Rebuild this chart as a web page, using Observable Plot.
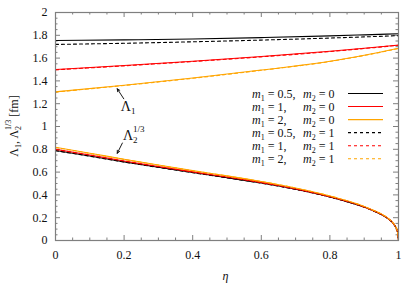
<!DOCTYPE html>
<html><head><meta charset="utf-8">
<script src="https://cdn.jsdelivr.net/npm/d3@7"></script>
<script src="https://cdn.jsdelivr.net/npm/@observablehq/plot@0.6"></script>
<style>
html,body{margin:0;padding:0;background:#fff;}
#chart svg, #chart svg text { font-family: "Liberation Serif", "Times New Roman", serif !important; }
</style>
</head><body><div id="chart"></div>
<script>
// ---- data ----
const etaUpper = [0, 0.2, 0.4, 0.6, 0.8, 0.9, 1.0];
const L1_m05_0 = [1.755, 1.760, 1.768, 1.780, 1.795, 1.804, 1.814];
const L1_m1_0  = [1.500, 1.535, 1.573, 1.614, 1.660, 1.686, 1.714];
const L1_m2_0  = [1.304, 1.362, 1.425, 1.495, 1.572, 1.625, 1.686];
const L1_m05_1 = [1.720, 1.730, 1.743, 1.758, 1.776, 1.786, 1.797];
const L1_m1_1  = [1.497, 1.532, 1.570, 1.611, 1.657, 1.684, 1.712];
const L1_m2_1  = [1.302, 1.360, 1.423, 1.493, 1.570, 1.623, 1.684];

const etaLower = [0, 0.1, 0.2, 0.3, 0.4, 0.5, 0.6, 0.7, 0.8, 0.85, 0.9, 0.93, 0.95, 0.97, 0.98, 0.99, 0.995, 0.998, 1.0];
const L2_m05_0 = [0.790, 0.741, 0.690, 0.642, 0.596, 0.551, 0.504, 0.449, 0.382, 0.341, 0.293, 0.256, 0.228, 0.190, 0.165, 0.127, 0.096, 0.060, 0.0];
const L2_m1_0  = [0.800, 0.750, 0.698, 0.649, 0.602, 0.557, 0.509, 0.453, 0.385, 0.344, 0.295, 0.258, 0.230, 0.192, 0.166, 0.128, 0.097, 0.060, 0.0];
const L2_m2_0  = [0.818, 0.766, 0.713, 0.662, 0.613, 0.567, 0.518, 0.461, 0.391, 0.349, 0.299, 0.261, 0.233, 0.194, 0.168, 0.130, 0.098, 0.060, 0.0];
const L2_m05_1 = [0.788, 0.739, 0.689, 0.641, 0.595, 0.550, 0.503, 0.448, 0.381, 0.340, 0.292, 0.255, 0.227, 0.189, 0.164, 0.126, 0.095, 0.060, 0.0];
const L2_m1_1  = [0.799, 0.749, 0.697, 0.648, 0.601, 0.556, 0.508, 0.452, 0.384, 0.343, 0.294, 0.257, 0.229, 0.191, 0.165, 0.127, 0.096, 0.060, 0.0];
const L2_m2_1  = [0.816, 0.764, 0.711, 0.661, 0.612, 0.566, 0.517, 0.460, 0.390, 0.348, 0.298, 0.260, 0.232, 0.193, 0.167, 0.129, 0.097, 0.060, 0.0];

const legendM1 = ["0.5,", "1,", "2,", "0.5,", "1,", "2,"];
const legendM2 = ["0", "0", "0", "1", "1", "1"];
const seriesColors = ["#000000", "#ff0000", "#ffa500", "#000000", "#ff0000", "#ffa500"];
const seriesDash = [null, null, null, "3,3", "3,3", "3,3"];

const xMajor = [0, 0.2, 0.4, 0.6, 0.8, 1];
const xMajorLabels = ["0", "0.2", "0.4", "0.6", "0.8", "1"];
const xMinor = [0.05,0.1,0.15,0.25,0.3,0.35,0.45,0.5,0.55,0.65,0.7,0.75,0.85,0.9,0.95];
const yMajor = [0, 0.2, 0.4, 0.6, 0.8, 1, 1.2, 1.4, 1.6, 1.8, 2];
const yMajorLabels = ["0", "0.2", "0.4", "0.6", "0.8", "1", "1.2", "1.4", "1.6", "1.8", "2"];
const yMinor = [0.05,0.1,0.15,0.25,0.3,0.35,0.45,0.5,0.55,0.65,0.7,0.75,0.85,0.9,0.95,1.05,1.1,1.15,1.25,1.3,1.35,1.45,1.5,1.55,1.65,1.7,1.75,1.85,1.9,1.95];

// annotations: text anchor (eta, value), arrow tail -> head
const annLambda1 = {x: 0.192, y: 1.13, x1: 0.199, y1: 1.243, x2: 0.180, y2: 1.331};
const annLambda2 = {x: 0.198, y: 0.873, x1: 0.195, y1: 0.855, x2: 0.180, y2: 0.765};

// ---- build ----
const upperSeries = [L1_m05_0, L1_m1_0, L1_m2_0, L1_m05_1, L1_m1_1, L1_m2_1];
const lowerSeries = [L2_m05_0, L2_m1_0, L2_m2_0, L2_m05_1, L2_m1_1, L2_m2_1];

const W = 407, H = 284, mL = 55, mR = 9, mT = 12, mB = 44;
const pw = W - mL - mR, ph = H - mT - mB;
const axisColor = "#7f7f7f";
const FF = "'Liberation Serif', 'Times New Roman', serif";

const lineMarks = [];
for (let i = 0; i < 6; i++) {
  const up = etaUpper.map((e, j) => ({eta: e, v: upperSeries[i][j]}));
  const lo = etaLower.map((e, j) => ({eta: e, v: lowerSeries[i][j]}));
  for (const d of [up, lo]) {
    lineMarks.push(Plot.line(d, {x: "eta", y: "v", stroke: seriesColors[i], strokeWidth: 1.1,
      strokeDasharray: seriesDash[i] ?? undefined, curve: "monotone-x"}));
  }
}

const chart = Plot.plot({
  width: W, height: H,
  marginLeft: mL, marginRight: mR, marginTop: mT, marginBottom: mB,
  style: {fontFamily: FF, fontSize: "12px", background: "#fff"},
  x: {domain: [0, 1]},
  y: {domain: [0, 2]},
  marks: [
    Plot.axisX(xMajor, {tickSize: 0, tickPadding: 9.5, label: null, fill: "#111", fontSize: 12,
      tickFormat: d => xMajorLabels[xMajor.indexOf(d)]}),
    Plot.axisY(yMajor, {tickSize: 0, tickPadding: 8, label: null, fill: "#111", fontSize: 12,
      tickFormat: d => yMajorLabels[yMajor.indexOf(d)]}),
    // inward ticks on all four sides
    Plot.tickY(yMajor, {y: d => d, stroke: axisColor, insetRight: pw - 5}),
    Plot.tickY(yMajor, {y: d => d, stroke: axisColor, insetLeft: pw - 5}),
    Plot.tickY(yMinor, {y: d => d, stroke: axisColor, insetRight: pw - 2.5}),
    Plot.tickY(yMinor, {y: d => d, stroke: axisColor, insetLeft: pw - 2.5}),
    Plot.tickX(xMajor, {x: d => d, stroke: axisColor, insetTop: ph - 5}),
    Plot.tickX(xMajor, {x: d => d, stroke: axisColor, insetBottom: ph - 5}),
    Plot.tickX(xMinor, {x: d => d, stroke: axisColor, insetTop: ph - 2.5}),
    Plot.tickX(xMinor, {x: d => d, stroke: axisColor, insetBottom: ph - 2.5}),
    ...lineMarks,
    Plot.arrow([annLambda1, annLambda2], {x1: "x1", y1: "y1", x2: "x2", y2: "y2", stroke: "#000", strokeWidth: 0.9, headLength: 5, headAngle: 50}),
    Plot.frame({stroke: axisColor, strokeWidth: 1.2})
  ]
});
document.getElementById("chart").appendChild(chart);

// ---- rich text (sub/superscripts), legend ----
const sx = chart.scale("x"), sy = chart.scale("y");
const svg = d3.select(chart);
const g = svg.append("g").style("font-family", FF).attr("fill", "#111").attr("text-anchor", "start");

// x label
g.append("text").attr("x", mL + pw / 2 - 1).attr("y", 280).attr("text-anchor", "middle")
  .attr("font-size", 12).attr("font-style", "italic").text("η");

// y label (rotated)
const yl = g.append("text").attr("transform", `translate(18,${mT + ph / 2}) rotate(-90)`)
  .attr("text-anchor", "middle").attr("font-size", 12);
yl.append("tspan").text("Λ");
yl.append("tspan").attr("font-size", 8).attr("dy", 3).text("1");
yl.append("tspan").attr("dy", -3).text(", Λ");
yl.append("tspan").attr("font-size", 8).attr("dy", 3).text("2");
yl.append("tspan").attr("font-size", 8).attr("dx", -4).attr("dy", -10).text("1/3");
yl.append("tspan").attr("dy", 7).text(" [fm]");

// annotation texts
const t1 = g.append("text").attr("x", sx.apply(annLambda1.x)).attr("y", sy.apply(annLambda1.y)).attr("font-size", 14);
t1.append("tspan").text("Λ");
t1.append("tspan").attr("font-size", 9).attr("dy", 3).text("1");
const t2 = g.append("text").attr("x", sx.apply(annLambda2.x)).attr("y", sy.apply(annLambda2.y)).attr("font-size", 14);
t2.append("tspan").text("Λ");
t2.append("tspan").attr("font-size", 9).attr("dy", 3).text("2");
t2.append("tspan").attr("font-size", 9).attr("dx", -4.5).attr("dy", -11).text("1/3");

// legend
const legY0 = 93.5, legStep = 13.05;
for (let i = 0; i < 6; i++) {
  const yy = legY0 + i * legStep;
  const t = g.append("text").attr("x", 252).attr("y", yy + 4).attr("font-size", 12);
  t.append("tspan").attr("font-style", "italic").text("m");
  t.append("tspan").attr("font-size", 8).attr("dy", 3).text("1");
  t.append("tspan").attr("dy", -3).text(" = " + legendM1[i]);
  const tb = g.append("text").attr("x", 303).attr("y", yy + 4).attr("font-size", 12);
  tb.append("tspan").attr("font-style", "italic").text("m");
  tb.append("tspan").attr("font-size", 8).attr("dy", 3).text("2");
  tb.append("tspan").attr("dy", -3).text(" = " + legendM2[i]);
  g.append("line").attr("x1", 348).attr("x2", 383).attr("y1", yy).attr("y2", yy)
    .attr("stroke", seriesColors[i]).attr("stroke-width", 1.1)
    .attr("stroke-dasharray", seriesDash[i]);
}
</script>
</body></html>
